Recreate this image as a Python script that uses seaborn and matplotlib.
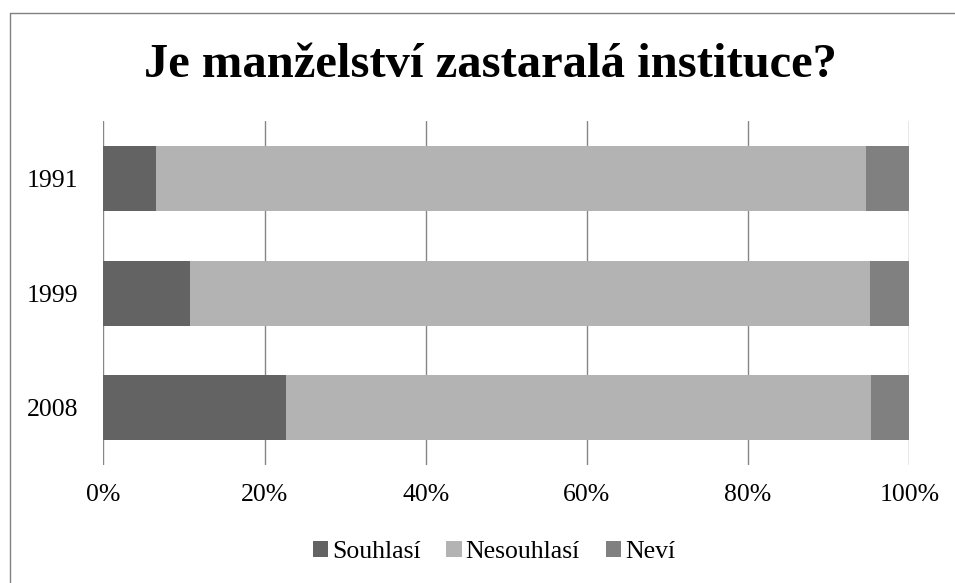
import matplotlib
matplotlib.use("Agg")
import matplotlib.pyplot as plt
import seaborn as sns
import pandas as pd
from matplotlib.patches import Patch
from matplotlib.lines import Line2D

years = ["1991", "1999", "2008"]
souhlasi = [6.5, 10.8, 22.7]
nesouhlasi = [88.1, 84.3, 72.5]
nevi = [5.4, 4.9, 4.8]
series_names = ["Souhlasí", "Nesouhlasí", "Neví"]
colors = ["#636363", "#b3b3b3", "#808080"]
x_ticks = [0, 20, 40, 60, 80, 100]
x_ticklabels = ["0%", "20%", "40%", "60%", "80%", "100%"]

df = pd.DataFrame({"rok": years, "Souhlasí": souhlasi,
                   "Nesouhlasí": nesouhlasi, "Neví": nevi})
# cumulative ends for stacking by overlay
df["c1"] = df["Souhlasí"]
df["c2"] = df["c1"] + df["Nesouhlasí"]
df["c3"] = df["c2"] + df["Neví"]

sns.set_style("white")
plt.rcParams["font.family"] = ["Liberation Serif", "DejaVu Serif"]
plt.rcParams["text.color"] = "black"

fig = plt.figure(figsize=(9.55, 5.83), dpi=100)
ax = fig.add_axes([103.3 / 955, 1 - 465 / 583, 806 / 955, (465 - 121.2) / 583])

for col, c in zip(["c3", "c2", "c1"], colors[::-1]):
    sns.barplot(data=df, x=col, y="rok", orient="h", color=c, width=0.567,
                linewidth=0, ax=ax, zorder=3)

ax.set_xlim(0, 100)
ax.set_xticks(x_ticks)
ax.set_xticklabels(x_ticklabels)
ax.set_xlabel("")
ax.set_ylabel("")
ax.grid(axis="x", color="#868686", linewidth=1.0, zorder=0)
ax.grid(axis="y", visible=False)
ax.set_axisbelow(True)
for s in ax.spines.values():
    s.set_visible(False)
ax.tick_params(axis="x", length=0, pad=14, labelsize=18.5, labelcolor="black")
ax.tick_params(axis="y", length=0, pad=18, labelsize=18.5, labelcolor="black")

fig.text(490 / 955, 1 - 76.7 / 583, "Je manželství zastaralá instituce?",
         ha="center", va="baseline", fontsize=35, fontweight="bold", color="black")

handles = [Patch(facecolor=c, edgecolor="none") for c in colors]
fig.legend(handles, series_names, loc="center", bbox_to_anchor=(494 / 955, 1 - 552 / 583),
           ncol=3, frameon=False, fontsize=18.5, handlelength=0.6, handleheight=0.6,
           handletextpad=0.15, columnspacing=1.0, labelcolor="black")

# outer chart border (only top and left edges fall inside the image)
fig.add_artist(Line2D([9.5 / 955, 9.5 / 955], [0, 1 - 13 / 583], transform=fig.transFigure,
                      color="#808080", linewidth=1.0))
fig.add_artist(Line2D([9.5 / 955, 1], [1 - 13 / 583, 1 - 13 / 583], transform=fig.transFigure,
                      color="#808080", linewidth=1.0))

fig.savefig("out.png", dpi=100)
